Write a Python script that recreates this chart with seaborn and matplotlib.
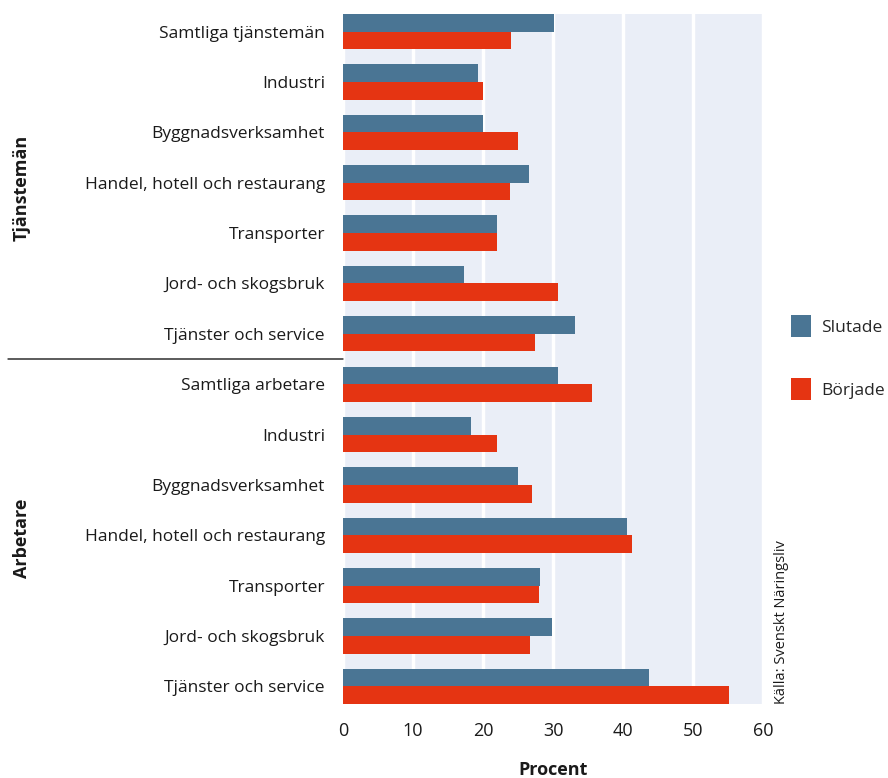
import matplotlib
matplotlib.use("Agg")
import matplotlib.pyplot as plt
import seaborn as sns
import pandas as pd

# Sectors, listed top to bottom for each employee group
sectors = [
    "Samtliga tjänstemän", "Industri", "Byggnadsverksamhet",
    "Handel, hotell och restaurang", "Transporter", "Jord- och skogsbruk",
    "Tjänster och service",
    "Samtliga arbetare", "Industri", "Byggnadsverksamhet",
    "Handel, hotell och restaurang", "Transporter", "Jord- och skogsbruk",
    "Tjänster och service",
]
groups = ["Tjänstemän", "Arbetare"]

# Share (percent) who stopped / started
slutade = [30.2, 19.3, 20.0, 26.5, 22.0, 17.3, 33.1,
           30.7, 18.3, 25.0, 40.5, 28.2, 29.9, 43.7]
borjade = [24.0, 20.0, 25.0, 23.8, 22.0, 30.7, 27.4,
           35.6, 22.0, 27.0, 41.3, 28.0, 26.7, 55.1]

series = ["Slutade", "Började"]
colors = ["#4A7594", "#E53412"]

keys = [f"{i:02d}" for i in range(len(sectors))]
df = pd.DataFrame({
    "key": keys * 2,
    "Procent": slutade + borjade,
    "serie": [series[0]] * len(keys) + [series[1]] * len(keys),
})

sns.set_theme(style="white")
plt.rcParams["font.family"] = ["Open Sans", "DejaVu Sans"]

fig = plt.figure(figsize=(8.88, 7.78), dpi=100)
ax = fig.add_axes([343 / 888, 1 - 704 / 778, 420 / 888, 690 / 778])
ax.set_facecolor("#EAEEF7")

sns.barplot(data=df, x="Procent", y="key", hue="serie", order=keys,
            hue_order=series, palette=colors, orient="h", width=0.7,
            saturation=1, ax=ax, legend=True, linewidth=0, zorder=3)

ax.set_xlim(0, 60)
ax.set_ylim(len(keys) - 1 + 0.35, -0.35)
ax.set_xticks(range(0, 61, 10))
ax.tick_params(axis="x", labelsize=13, length=0, pad=13)
ax.tick_params(axis="y", labelsize=12.5, length=0, pad=13)
ax.set_yticks(range(len(keys)))
ax.set_yticklabels(sectors)
for lab in ax.get_xticklabels() + ax.get_yticklabels():
    lab.set_color("#1a1a1a")
ax.set_ylabel("")
ax.set_xlabel("Procent", fontsize=13, fontweight="bold", labelpad=15,
              color="#1a1a1a")
ax.grid(axis="x", color="white", linewidth=2.5, zorder=1)
ax.set_axisbelow(True)
for s in ax.spines.values():
    s.set_visible(False)

# Legend to the right of the plot, with square swatches
handles, labels = ax.get_legend_handles_labels()
ax.legend(handles, labels, loc="upper left",
          bbox_to_anchor=(791 / 888, 1 - 315 / 778),
          bbox_transform=fig.transFigure, borderpad=0, borderaxespad=0,
          frameon=False, fontsize=12.5, handlelength=1.15,
          handleheight=1.6, labelspacing=2.35, handletextpad=0.6)

# Group labels and separator line
n_t = 7
ax.annotate("", xy=(0, n_t - 0.5), xycoords=("axes fraction", "data"),
            xytext=(8 / 888, n_t - 0.5),
            textcoords=("figure fraction", "data"),
            arrowprops=dict(arrowstyle="-", color="#1a1a1a", lw=1,
                            shrinkA=0, shrinkB=0))
fig.text(22 / 888, 1 - 188 / 778, groups[0], rotation=90, ha="center",
         va="center", fontsize=13, fontweight="bold", color="#1a1a1a")
fig.text(22 / 888, 1 - 538 / 778, groups[1], rotation=90, ha="center",
         va="center", fontsize=13, fontweight="bold", color="#1a1a1a")

# Source note
fig.text(781 / 888, 1 - 704 / 778, "Källa: Svenskt Näringsliv", rotation=90,
         ha="center", va="bottom", fontsize=10.5, color="#1a1a1a")

fig.savefig("out.png", dpi=100)
